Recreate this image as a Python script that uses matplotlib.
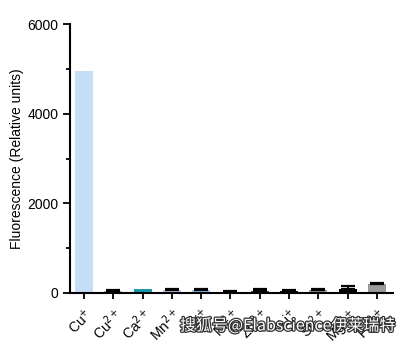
import matplotlib
matplotlib.use("Agg")
import matplotlib.pyplot as plt
import matplotlib.patheffects as pe
from matplotlib.ticker import MultipleLocator

plt.rcParams['font.family'] = ['Liberation Sans', 'DejaVu Sans']

ions = ["Cu$^{+}$", "Cu$^{2+}$", "Ca$^{2+}$", "Mn$^{2+}$", "K$^{+}$", "Ni$^{2+}$",
        "Zn$^{2+}$", "Li$^{+}$", "Sr$^{2+}$", "Mg$^{2+}$", "Fe$^{2+}$"]
values = [4950, 50, 80, 60, 65, 20, 50, 40, 60, 90, 200]
errors = [0, 25, 0, 30, 35, 20, 40, 25, 20, 60, 25]
colors = ["#c6ddf7", "#8cb6ea", "#1a9aa6", "#c9c2f2", "#95c3f2", "#000000",
          "#555555", "#000000", "#999999", "#000000", "#9a9a9a"]

fig = plt.figure(figsize=(4.02, 3.44), dpi=100)
ax = fig.add_axes([70/402, 1-293/344, (393-70)/402, (293-24)/344])

x = list(range(len(ions)))
ax.bar(x, values, width=0.62, color=colors, zorder=2)
ex = [xi for xi, e in zip(x, errors) if e > 0]
ev = [v for v, e in zip(values, errors) if e > 0]
ee = [e for e in errors if e > 0]
ax.errorbar(ex, ev, yerr=[[0]*len(ee), ee], fmt='none', ecolor='black',
            elinewidth=1.3, capsize=5, capthick=1.6, zorder=3)

ax.set_xlim(-0.48, 10.55)
ax.set_ylim(0, 6000)
ax.yaxis.set_major_locator(MultipleLocator(2000))
ax.yaxis.set_minor_locator(MultipleLocator(1000))
ax.set_xticks(x)
ax.set_xticklabels(ions, rotation=45, ha='right', rotation_mode='anchor', fontsize=10)
ax.tick_params(axis='y', labelsize=10, width=1.3, length=5)
ax.tick_params(axis='y', which='minor', width=1.3, length=3)
ax.tick_params(axis='x', width=1.3, length=4, pad=5)
ax.set_ylabel("Fluorescence (Relative units)", fontsize=10, labelpad=2)
for s in ['top', 'right']:
    ax.spines[s].set_visible(False)
for s in ['left', 'bottom']:
    ax.spines[s].set_linewidth(1.5)

fig.text(180/402, 1-326/344, "搜狐号@Elabscience伊莱瑞特", fontsize=11.5,
         family=['Noto Sans CJK SC', 'DejaVu Sans'], color='white', va='center',
         path_effects=[pe.withStroke(linewidth=1.8, foreground='#333333')])

fig.savefig("out.png", dpi=100)
